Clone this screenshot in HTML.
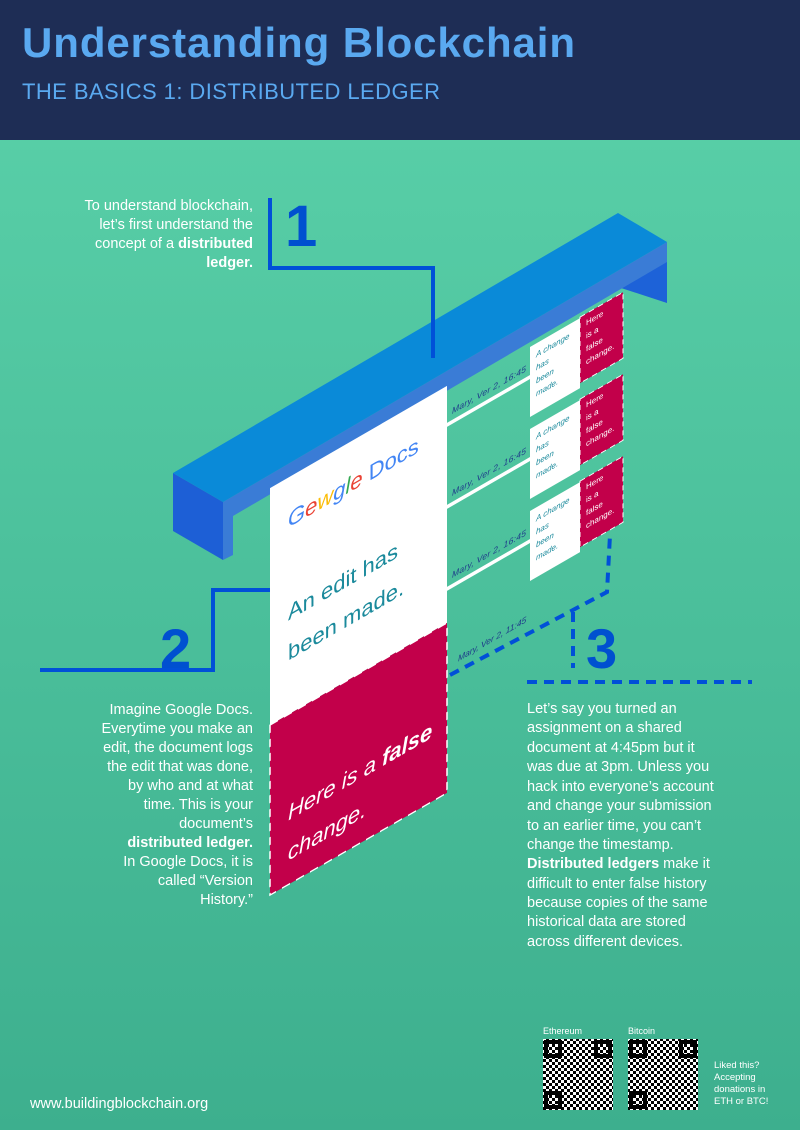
<!DOCTYPE html>
<html><head><meta charset="utf-8"><style>
html,body{margin:0;padding:0;width:800px;height:1130px;overflow:hidden;font-family:"Liberation Sans",sans-serif}
</style></head><body>
<svg width="800" height="1130" viewBox="0 0 800 1130" xmlns="http://www.w3.org/2000/svg" font-family="Liberation Sans, sans-serif">
<defs>
<linearGradient id="bg" x1="0" y1="0" x2="0" y2="1">
<stop offset="0" stop-color="#5bd2aa"/><stop offset="1" stop-color="#3daf8e"/>
</linearGradient>
<pattern id="qr" width="6" height="6" patternUnits="userSpaceOnUse">
<rect width="6" height="6" fill="#fff"/><rect width="3" height="3" fill="#000"/><rect x="3" y="3" width="3" height="3" fill="#000"/>
</pattern>
</defs>
<rect width="800" height="1130" fill="url(#bg)"/>
<rect width="800" height="140" fill="#1e2d55"/>
<text x="22" y="57" font-size="42" font-weight="bold" fill="#5aa9f0" textLength="553">Understanding Blockchain</text>
<text x="22" y="99" font-size="22" fill="#5aa9f0" textLength="418">THE BASICS 1: DISTRIBUTED LEDGER</text>

<!-- beam -->
<polygon points="618,275 667,247 667,303 618,287" fill="#1d62d8"/>
<polygon points="173,473 223,502 223,560 173,531" fill="#1d5fd6"/>
<polygon points="223,502 667,242 667,262 233,516 233,555 223,560" fill="#3a7cd6"/>
<polygon points="173,473 618,213 667,242 223,502" fill="#0a8ad8"/>

<!-- connector 1 -->
<polyline points="270,198 270,268 433,268 433,358" fill="none" stroke="#0050d8" stroke-width="4"/>
<text x="285" y="246" font-size="58" font-weight="bold" fill="#0050d0">1</text>

<g transform="skewY(-30)">
<rect x="270" y="644" width="177" height="237" fill="#fff"/>
<rect x="270" y="881" width="177" height="170" fill="#c2004a" stroke="#fff" stroke-width="1.5" stroke-dasharray="8 6"/>
<text x="288" y="694" font-size="22" font-style="italic"><tspan fill="#4285f4">G</tspan><tspan fill="#ea4335">e</tspan><tspan fill="#fbbc05">w</tspan><tspan fill="#4285f4">g</tspan><tspan fill="#34a853">l</tspan><tspan fill="#ea4335">e</tspan><tspan fill="#4285f4" font-style="normal"> Docs</tspan></text>
<text x="288" y="787" font-size="22" fill="#1b8a9c">An edit has</text>
<text x="288" y="827" font-size="22" fill="#1b8a9c">been made.</text>
<text x="288" y="987" font-size="22" font-style="italic" fill="#fff">Here is a <tspan font-weight="bold">false</tspan></text>
<text x="288" y="1027" font-size="22" font-style="italic" fill="#fff">change.</text>
<text x="458" y="926" font-size="8.5" font-style="italic" fill="#1e3a8a">Mary, Ver 2, 11:45</text>

<g id="row">
<rect x="447" y="681" width="83" height="4" fill="#fff"/>
<text x="452" y="675" font-size="8.5" font-style="italic" fill="#1e3a8a" textLength="74">Mary, Ver 2, 16:45</text>
<rect x="530" y="653" width="50" height="70" fill="#fff"/>
<rect x="580" y="652" width="43" height="66" fill="#c2004a" stroke="#fff" stroke-width="1" stroke-dasharray="5 4"/>
<text font-size="8" fill="#1b8a9c" font-style="italic"><tspan x="536" y="667">A change</tspan><tspan x="536" y="680">has</tspan><tspan x="536" y="693">been</tspan><tspan x="536" y="706">made.</tspan></text>
<text font-size="8" fill="#fff"><tspan x="586" y="664">Here</tspan><tspan x="586" y="677">is a</tspan><tspan x="586" y="690">false</tspan><tspan x="586" y="703">change.</tspan></text>
</g>
<use href="#row" y="82"/>
<use href="#row" y="164"/>
</g>

<polyline points="40,670 213,670 213,590 270,590" fill="none" stroke="#0050d8" stroke-width="4"/>
<text x="160" y="668" font-size="56" font-weight="bold" fill="#0050d0">2</text>

<g fill="none" stroke="#0050d8" stroke-width="4" stroke-dasharray="10 7">
<polyline points="450,675 573,610 607,592 610,535"/>
<line x1="573" y1="612" x2="573" y2="668"/>
<line x1="527" y1="682" x2="752" y2="682"/>
</g>
<text x="586" y="668" font-size="56" font-weight="bold" fill="#0050d0">3</text>

<g font-size="14.5" fill="#fff" text-anchor="end">
<text x="253" y="210">To understand blockchain,</text>
<text x="253" y="229">let’s first understand the</text>
<text x="253" y="248">concept of a <tspan font-weight="bold">distributed</tspan></text>
<text x="253" y="267" font-weight="bold">ledger.</text>
</g>
<g font-size="14.5" fill="#fff" text-anchor="end">
<text x="253" y="714">Imagine Google Docs.</text>
<text x="253" y="733">Everytime you make an</text>
<text x="253" y="752">edit, the document logs</text>
<text x="253" y="771">the edit that was done,</text>
<text x="253" y="790">by who and at what</text>
<text x="253" y="809">time. This is your</text>
<text x="253" y="828">document’s</text>
<text x="253" y="847" font-weight="bold">distributed ledger.</text>
<text x="253" y="866">In Google Docs, it is</text>
<text x="253" y="885">called “Version</text>
<text x="253" y="904">History.”</text>
</g>
<g font-size="14.5" fill="#fff">
<text x="527" y="713">Let’s say you turned an</text>
<text x="527" y="732">assignment on a shared</text>
<text x="527" y="752">document at 4:45pm but it</text>
<text x="527" y="771">was due at 3pm. Unless you</text>
<text x="527" y="791">hack into everyone’s account</text>
<text x="527" y="810">and change your submission</text>
<text x="527" y="830">to an earlier time, you can’t</text>
<text x="527" y="849">change the timestamp.</text>
<text x="527" y="868"><tspan font-weight="bold">Distributed ledgers</tspan> make it</text>
<text x="527" y="888">difficult to enter false history</text>
<text x="527" y="907">because copies of the same</text>
<text x="527" y="926">historical data are stored</text>
<text x="527" y="946">across different devices.</text>
</g>

<text x="30" y="1108" font-size="14.5" fill="#fff">www.buildingblockchain.org</text>
<text x="543" y="1034" font-size="9" fill="#fff">Ethereum</text>
<text x="628" y="1034" font-size="9" fill="#fff">Bitcoin</text>
<rect x="543" y="1039" width="70" height="71" fill="url(#qr)"/>
<rect x="628" y="1039" width="70" height="71" fill="url(#qr)"/>
<g fill="none" stroke="#000" stroke-width="4">
<rect x="546" y="1042" width="14" height="14"/><rect x="596" y="1042" width="14" height="14"/><rect x="546" y="1093" width="14" height="14"/>
<rect x="631" y="1042" width="14" height="14"/><rect x="681" y="1042" width="14" height="14"/><rect x="631" y="1093" width="14" height="14"/>
</g>
<g font-size="9.5" fill="#fff">
<text x="714" y="1068">Liked this?</text>
<text x="714" y="1080">Accepting</text>
<text x="714" y="1092">donations in</text>
<text x="714" y="1104">ETH or BTC!</text>
</g>
</svg>
</body></html>
